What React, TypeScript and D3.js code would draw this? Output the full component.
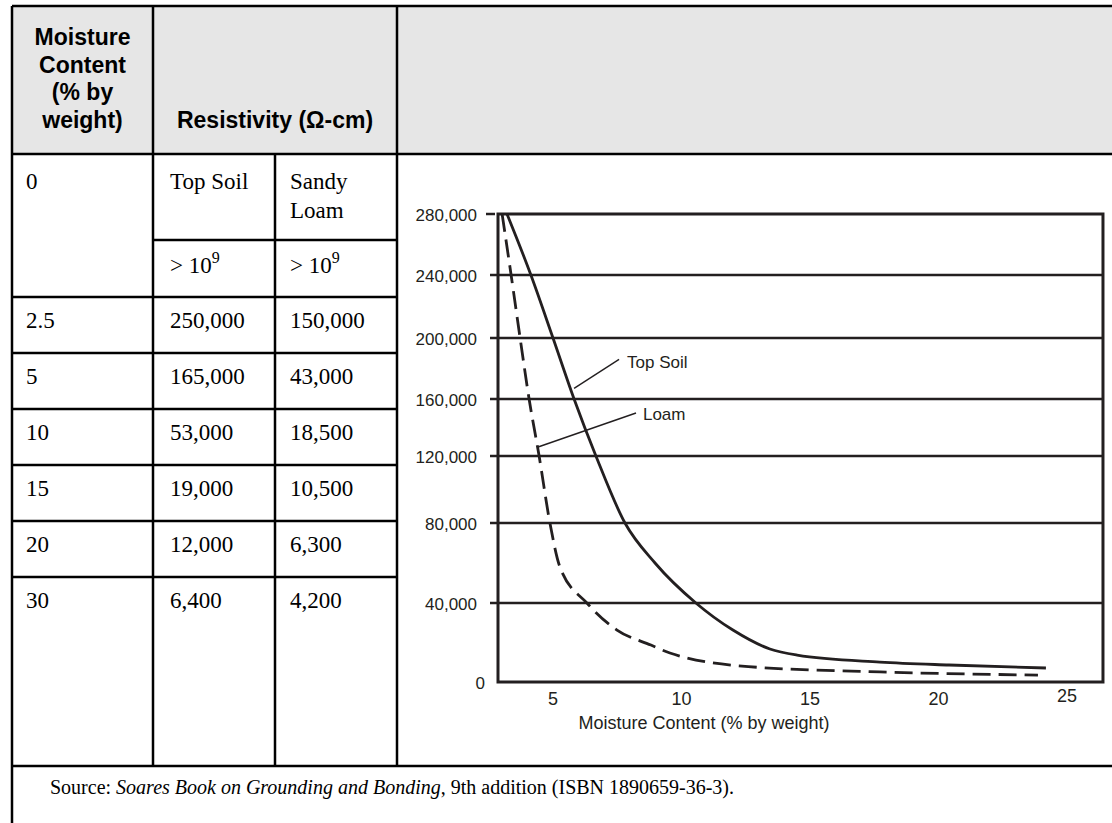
import React from "react";
import * as d3 from "d3";

// ---------- table data ----------
const headerMoisture = ["Moisture", "Content", "(% by", "weight)"];
const headerResistivity = "Resistivity (\u03A9-cm)";
const soilNames = ["Top Soil", "Sandy|Loam"];
const moistureLevels = ["2.5", "5", "10", "15", "20", "30"];
const topSoilValues = ["250,000", "165,000", "53,000", "19,000", "12,000", "6,400"];
const sandyLoamValues = ["150,000", "43,000", "18,500", "10,500", "6,300", "4,200"];
const sourceParts = [
  { t: "Source: ", italic: false },
  { t: "Soares Book on Grounding and Bonding", italic: true },
  { t: ", 9th addition (ISBN 1890659-36-3).", italic: false },
];

// ---------- chart data ----------
const topSoilX = [3.21, 4.14, 5.0, 5.82, 6.67, 7.8, 8.97, 10.56, 12.0, 13.44, 14.5, 17.72, 20.41, 24.18];
const topSoilY = [280000, 240000, 200000, 160000, 120000, 80000, 60000, 40000, 26300, 16700, 13600, 10100, 8600, 7100];
const loamX = [3.02, 3.37, 3.72, 4.07, 4.46, 4.88, 5.27, 6.32, 7.49, 8.81, 9.55, 12.6, 17.72, 23.87];
const loamY = [280000, 240000, 200000, 160000, 120000, 80000, 58000, 40000, 26300, 18700, 14700, 7800, 5100, 3500];
const yTicks = [0, 40000, 80000, 120000, 160000, 200000, 240000, 280000];
const xTicks = [5, 10, 15, 20, 25];
const xDomain = [2.86, 26.4];
const annotations = [
  { label: "Top Soil", x0: 5.82, y0: 167000, x1: 7.57, y1: 186000, tx: 7.88, ty: 184300 },
  { label: "Loam", x0: 4.42, y0: 126300, x1: 8.23, y1: 150200, tx: 8.5, ty: 149500 },
];

const INK = "#231f20";
const SANS = "'Liberation Sans', Arial, Helvetica, sans-serif";
const SERIF = "'Liberation Serif', 'Times New Roman', serif";

export default function App() {
  const W = 1112;
  const H = 823;

  // table layout
  const L = 12, C1 = 153, C2 = 275, C3 = 397, R = 1112;
  const T = 6, HB = 154, SUB = 240, R0 = 297, RH = 56, SRC = 766;
  const bodyRowTops = moistureLevels.map((_, i) => R0 + i * RH);

  // chart scales
  const x = d3.scaleLinear().domain([5, 25]).range([553, 1067]);
  const y = d3
    .scaleLinear()
    .domain(yTicks)
    .range([682, 603, 523, 456, 399, 338, 275, 214]);
  const fx0 = x(xDomain[0]);
  const fx1 = x(xDomain[1]);
  const fy0 = y(0);
  const fy1 = y(280000);

  const line = d3
    .line<[number, number]>()
    .x((d) => x(d[0]))
    .y((d) => y(d[1]))
    .curve(d3.curveMonotoneX);
  const topSoilPath = line(topSoilX.map((v, i) => [v, topSoilY[i]]) as [number, number][]) || "";
  const loamPath = line(loamX.map((v, i) => [v, loamY[i]]) as [number, number][]) || "";
  const fmt = d3.format(",");

  const tableLine = { stroke: "#000", strokeWidth: 2.5 };

  return (
    <svg
      width={W}
      height={H}
      style={{ position: "absolute", left: 0, top: 0, background: "#fff" }}
    >
      <rect x={0} y={0} width={W} height={H} fill="#fff" />
      {/* header background */}
      <rect x={L} y={T} width={R - L} height={HB - T} fill="#e6e6e6" />

      {/* header text */}
      {headerMoisture.map((s, i) => (
        <text
          key={s}
          x={(L + C1) / 2}
          y={45 + i * 27.7}
          textAnchor="middle"
          fontFamily={SANS}
          fontWeight="bold"
          fontSize={23}
          fill="#000"
        >
          {s}
        </text>
      ))}
      <text
        x={(C1 + C3) / 2}
        y={128}
        textAnchor="middle"
        fontFamily={SANS}
        fontWeight="bold"
        fontSize={23}
        fill="#000"
      >
        {headerResistivity}
      </text>

      {/* row 0 */}
      <g fontFamily={SERIF} fontSize={23} fill="#000">
        <text x={26} y={189}>0</text>
        <text x={170} y={189}>{soilNames[0]}</text>
        {soilNames[1].split("|").map((s, i) => (
          <text key={s} x={290} y={189 + i * 28.5}>
            {s}
          </text>
        ))}
        {[170, 290].map((tx) => (
          <text key={tx} x={tx} y={273}>
            {"> 10"}
            <tspan dy={-10} fontSize={16}>9</tspan>
          </text>
        ))}
        {moistureLevels.map((m, i) => (
          <g key={m}>
            <text x={26} y={bodyRowTops[i] + 31}>{m}</text>
            <text x={170} y={bodyRowTops[i] + 31}>{topSoilValues[i]}</text>
            <text x={290} y={bodyRowTops[i] + 31}>{sandyLoamValues[i]}</text>
          </g>
        ))}
      </g>

      {/* source */}
      <text x={50} y={794} fontFamily={SERIF} fontSize={20} fill="#000">
        {sourceParts.map((p, i) => (
          <tspan key={i} fontStyle={p.italic ? "italic" : "normal"}>
            {p.t}
          </tspan>
        ))}
      </text>

      {/* table lines */}
      <line x1={L} x2={R} y1={T} y2={T} {...tableLine} />
      <line x1={L} x2={R} y1={HB} y2={HB} {...tableLine} />
      <line x1={C1} x2={C3} y1={SUB} y2={SUB} {...tableLine} />
      {bodyRowTops.map((ry) => (
        <line key={ry} x1={L} x2={C3} y1={ry} y2={ry} {...tableLine} />
      ))}
      <line x1={L} x2={R} y1={SRC} y2={SRC} {...tableLine} />
      <line x1={L} x2={L} y1={T} y2={H} {...tableLine} />
      <line x1={C1} x2={C1} y1={T} y2={SRC} {...tableLine} />
      <line x1={C2} x2={C2} y1={HB} y2={SRC} {...tableLine} />
      <line x1={C3} x2={C3} y1={T} y2={SRC} {...tableLine} />

      {/* chart */}
      <g>
        {yTicks
          .filter((v) => v > 0 && v < 280000)
          .map((v) => (
            <line key={v} x1={fx0 - 8} x2={fx1} y1={y(v)} y2={y(v)} stroke={INK} strokeWidth={2.5} />
          ))}
        <line x1={fx0 - 12} x2={fx0 - 3} y1={fy1} y2={fy1} stroke={INK} strokeWidth={2.5} />
        <rect
          x={fx0}
          y={fy1}
          width={fx1 - fx0}
          height={fy0 - fy1}
          fill="none"
          stroke={INK}
          strokeWidth={3}
        />
        {yTicks.map((v) => (
          <text
            key={v}
            x={v === 0 ? 485 : 477}
            y={y(v) + 7}
            textAnchor="end"
            fontFamily={SANS}
            fontSize={17}
            fill={INK}
          >
            {fmt(v)}
          </text>
        ))}
        {xTicks.map((v) => (
          <text
            key={v}
            x={x(v)}
            y={v === 25 ? 702 : 705}
            textAnchor="middle"
            fontFamily={SANS}
            fontSize={18}
            fill={INK}
          >
            {v}
          </text>
        ))}
        <text
          x={704}
          y={729}
          textAnchor="middle"
          fontFamily={SANS}
          fontSize={18}
          fill={INK}
        >
          Moisture Content (% by weight)
        </text>
        <path d={topSoilPath} fill="none" stroke={INK} strokeWidth={2.8} />
        <path d={loamPath} fill="none" stroke={INK} strokeWidth={2.8} strokeDasharray="18 8" />
        {annotations.map((a) => (
          <g key={a.label}>
            <line
              x1={x(a.x0)}
              y1={y(a.y0)}
              x2={x(a.x1)}
              y2={y(a.y1)}
              stroke={INK}
              strokeWidth={1.4}
            />
            <text
              x={x(a.tx)}
              y={y(a.ty) + 6}
              fontFamily={SANS}
              fontSize={17}
              fill={INK}
            >
              {a.label}
            </text>
          </g>
        ))}
      </g>
    </svg>
  );
}
